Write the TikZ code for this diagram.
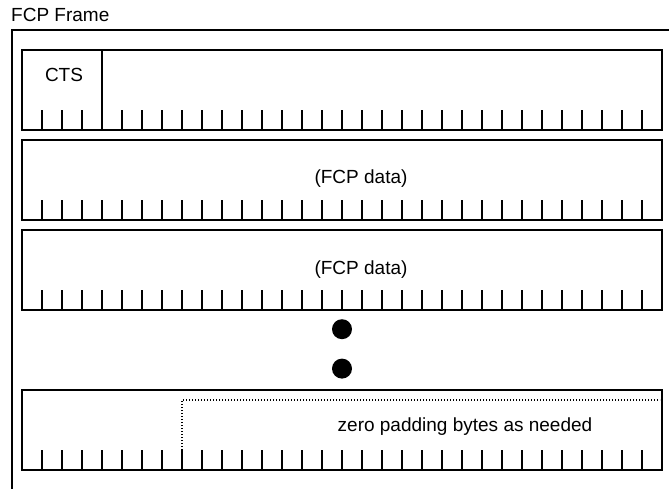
\documentclass[tikz,border=0pt]{standalone}
\usepackage{fontspec}
\setmainfont{Liberation Sans}
\usetikzlibrary{positioning}
\tikzstyle{row} = [rectangle, 
minimum width=640pt, 
minimum height=80pt, 
outer sep=0pt, 
draw=black, 
line width=2pt]
\tikzstyle{tick} = [line width=2pt]
\tikzstyle{frame} = [line width=2pt]
\tikzstyle{bigdot} = [circle, fill=black, minimum size=20pt, inner sep=0pt]
\tikzstyle{pad} = [line width=1.3pt, dash pattern=on 1.3pt off 1.7pt]

\begin{document}
\begin{tikzpicture}[font=\fontsize{19}{22}\selectfont, inner sep=0pt]
        \useasboundingbox (0,0) rectangle (669pt,-489pt);
        \node (title) [anchor=base west] at (11pt,-22pt) {FCP Frame};
        \coordinate (corner) at (12pt,-30pt);
        \draw [frame] (669pt,-30pt) -- (corner) -- (12pt,-489pt);
        \node (row1) [row] at (342pt,-90pt) {};
        \node (row2) [row, below=10pt of row1] {};
        \node (row3) [row, below=10pt of row2] {};
        \node (dot1) [bigdot, below=9pt of row3] {};
        \node (dot2) [bigdot, below=19pt of dot1] {};
        \node (row4) [row, below=80pt of row3] {};
        % byte ticks
        \foreach \r in {row1,row2,row3,row4}
            \foreach \i in {1,...,31}
                \draw [tick] ([xshift=\i*20pt]\r.south west) -- ++(0,20pt);
        \draw [tick] ([xshift=80pt]row1.north west) -- ([xshift=80pt]row1.south west);
        \node (cts) [anchor=base] at ([xshift=42pt,yshift=-32pt]row1.north west) {CTS};
        \node (data1) [anchor=base] at ([xshift=19pt,yshift=-4pt]row2.center) {(FCP data)};
        \node (data2) [anchor=base] at ([xshift=19pt,yshift=-4pt]row3.center) {(FCP data)};
        \draw [pad] ([xshift=160pt,yshift=20pt]row4.south west) |- ([xshift=-2pt,yshift=-10pt]row4.north east);
        \node (zero) [anchor=base] at ([xshift=123pt,yshift=-1pt]row4.center) {zero padding bytes as needed};
    \end{tikzpicture}
\end{document}
